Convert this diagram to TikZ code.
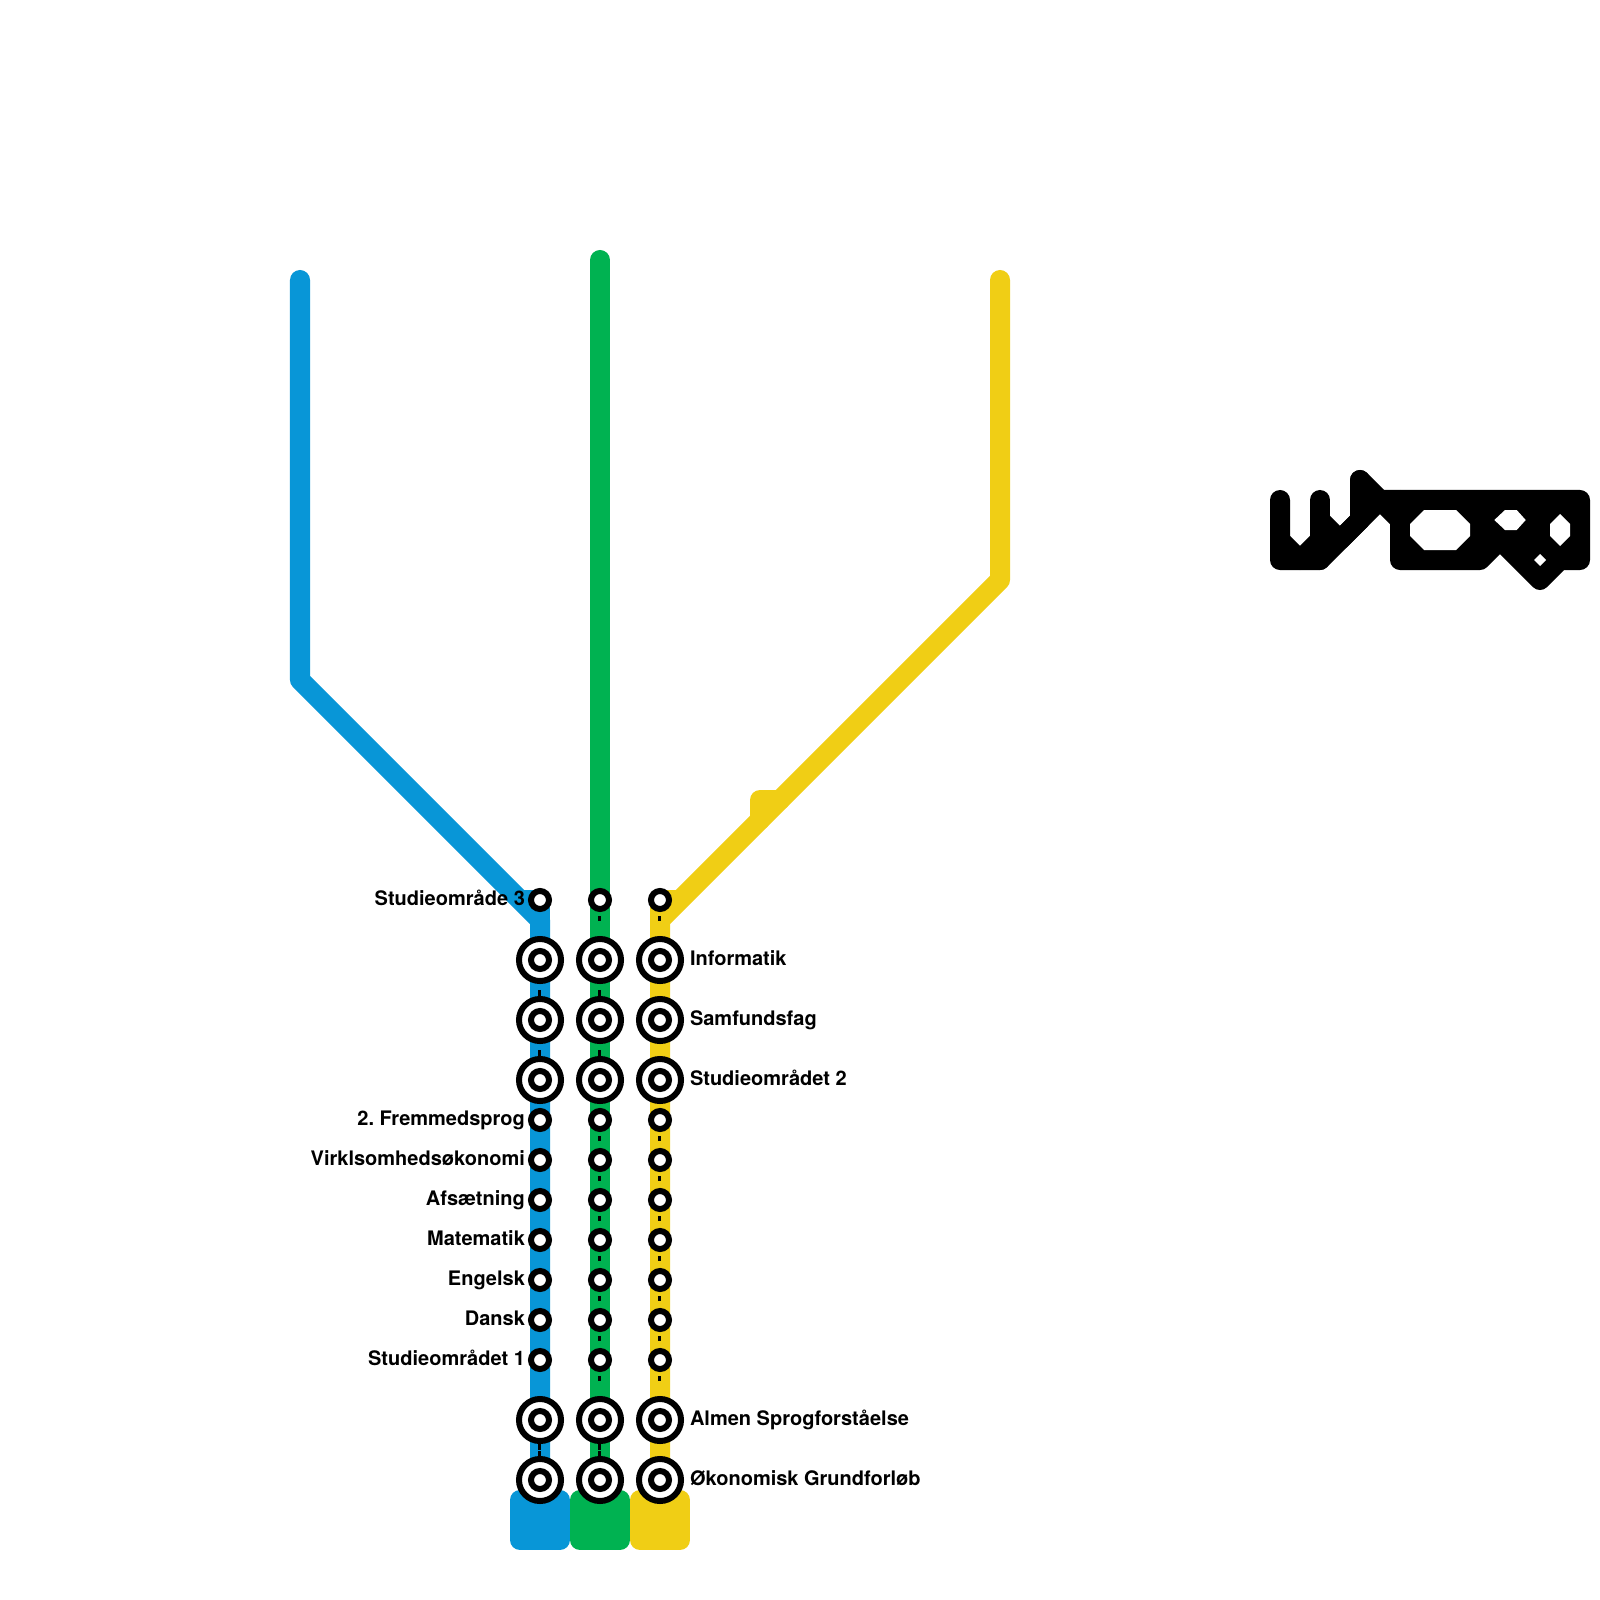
\documentclass[tikz,border=0pt]{standalone}
\usepackage{fontspec}
\setmainfont{TeX Gyre Heros}
\frenchspacing
\usetikzlibrary{backgrounds}
\definecolor{lineblue}{HTML}{0896D7}
\definecolor{linegreen}{HTML}{00B251}
\definecolor{lineyellow}{HTML}{F0CE15}
\tikzset{
  route/.style={line width=0.2cm,line cap=round,line join=round},
  terminal/.style={route,draw=#1,fill=#1},
  smallstop/.style={circle,draw=black,fill=white,line width=0.06cm,minimum size=0.18cm,inner sep=0pt,outer sep=0pt},
  bigring/.style={circle,draw=black,fill=white,line width=0.06cm,minimum size=0.42cm,inner sep=0pt,outer sep=0pt},
  tick/.style={draw=black,transform canvas={xshift=-0.007cm},line width=0.03cm,dash pattern=on 0cm off 0.16cm on 0.05cm off 1cm},
  tickwide/.style={draw=black,transform canvas={xshift=-0.007cm},line width=0.03cm,dash pattern=on 0cm off 0.30cm on 0.06cm off 1cm},
  tickdouble/.style={draw=black,transform canvas={xshift=-0.007cm},line width=0.03cm,dash pattern=on 0cm off 0.24cm on 0.06cm off 0.01cm on 0.05cm off 1cm},
  leftlabel/.style={anchor=base east,inner sep=0pt,font=\fontsize{5.69}{6.8}\selectfont\bfseries},
  rightlabel/.style={anchor=base west,inner sep=0pt,font=\fontsize{5.69}{6.8}\selectfont\bfseries},
  hole/.style={fill=white,draw=none},
  logo/.style={route,draw=black,fill=black},
  logostroke/.style={route,draw=black}
}
\begin{document}
\begin{tikzpicture}[x=0.01cm,y=-0.01cm]
\useasboundingbox (0,0) rectangle (1600,1600);
% stations
\foreach \c/\x in {b/540,g/600,y/660}{
  \foreach \s in {900,1120,1160,1200,1240,1280,1320,1360}{
    \node[smallstop] (\c\s) at (\x,\s) {};
  }
  \foreach \s in {960,1020,1080,1420,1480}{
    \node[bigring] (\c\s r) at (\x,\s) {};
    \node[smallstop] (\c\s) at (\x,\s) {};
  }
}
% routes and terminals
\begin{scope}[on background layer]
  \draw[route,draw=lineblue] (300,280) -- (300,680) -- (540,920) -- (b1480.center);
  \coordinate (bstub) at (520,900);
  \draw[route,line cap=butt,draw=lineblue] (bstub) -- (b900.center) -- (540,920);
  \draw[terminal=lineblue] (520,1500) -- (560,1500) -- (560,1540) -- (520,1540) -- cycle;
  \draw[route,draw=linegreen] (600,260) -- (g1480.center);
  \draw[terminal=linegreen] (580,1500) -- (620,1500) -- (620,1540) -- (580,1540) -- cycle;
  \draw[route,draw=lineyellow] (1000,280) -- (1000,580) -- (660,920) -- (y1480.center);
  \coordinate (ystub) at (680,900);
  \draw[route,line cap=butt,draw=lineyellow] (ystub) -- (y900.center) -- (660,920);
  \draw[route,draw=lineyellow] (760,820) -- (760,800) -- (780,800);
  \draw[terminal=lineyellow] (640,1500) -- (680,1500) -- (680,1540) -- (640,1540) -- cycle;
  % ticks
  \foreach \c in {g,y}{
    \draw[tick] (\c900.center) -- (\c960.center);
    \foreach \a/\b in {1120/1160,1160/1200,1200/1240,1240/1280,1280/1320,1320/1360,1360/1420}{
      \draw[tick] (\c\a.center) -- (\c\b.center);
    }
  }
  \foreach \c in {b,g}{
    \draw[tickwide] (\c960.center) -- (\c1020.center);
    \draw[tickwide] (\c1020.center) -- (\c1080.center);
    \draw[tickdouble] (\c1420.center) -- (\c1480.center);
  }
\end{scope}
% labels
\foreach \n/\s/\t in {l1/905/Studieområde 3,l2/1125/2. Fremmedsprog,l3/1165/Virklsomhedsøkonomi,l4/1205/Afsætning,l5/1245/Matematik,l6/1285/Engelsk,l7/1325/Dansk,l8/1365/Studieområdet 1}{
  \node[leftlabel] (\n) at (525.6,\s) {\t};
}
\foreach \n/\s/\t in {r1/965/Informatik,r2/1025/Samfundsfag,r3/1085/Studieområdet 2,r4/1425/Almen Sprogforståelse,r5/1485/Økonomisk Grundforløb}{
  \node[rightlabel] (\n) at (689.3,\s) {\t};
}
% black mark
\draw[logostroke] (1280,500) -- (1280,560) -- (1320,560) -- (1380,500) -- (1400,500);
\draw[logostroke] (1280,540) -- (1300,560) -- (1320,540);
\draw[logostroke] (1320,500) -- (1320,560);
\draw[logostroke] (1320,520) -- (1340,540) -- (1360,520);
\draw[logostroke] (1360,480) -- (1360,520);
\draw[logostroke] (1360,480) -- (1400,520);
\draw[logo] (1400,500) -- (1580,500) -- (1580,560) -- (1560,560) -- (1540,580) -- (1500,540) -- (1480,560) -- (1400,560) -- cycle;
\fill[hole] (1424,510) -- (1456,510) -- (1470,524) -- (1470,536) -- (1456,550) -- (1424,550) -- (1410,536) -- (1410,524) -- cycle;
\fill[hole] (1494.3,520) -- (1505,510) -- (1516.7,510) -- (1525.7,520) -- (1516.7,530) -- (1505,530) -- cycle;
\fill[hole] (1550,524) -- (1560,514) -- (1570,524) -- (1570,536) -- (1560,546) -- (1550,536) -- cycle;
\fill[hole] (1540,554) -- (1546,560) -- (1540,566) -- (1534,560) -- cycle;
\end{tikzpicture}
\end{document}
